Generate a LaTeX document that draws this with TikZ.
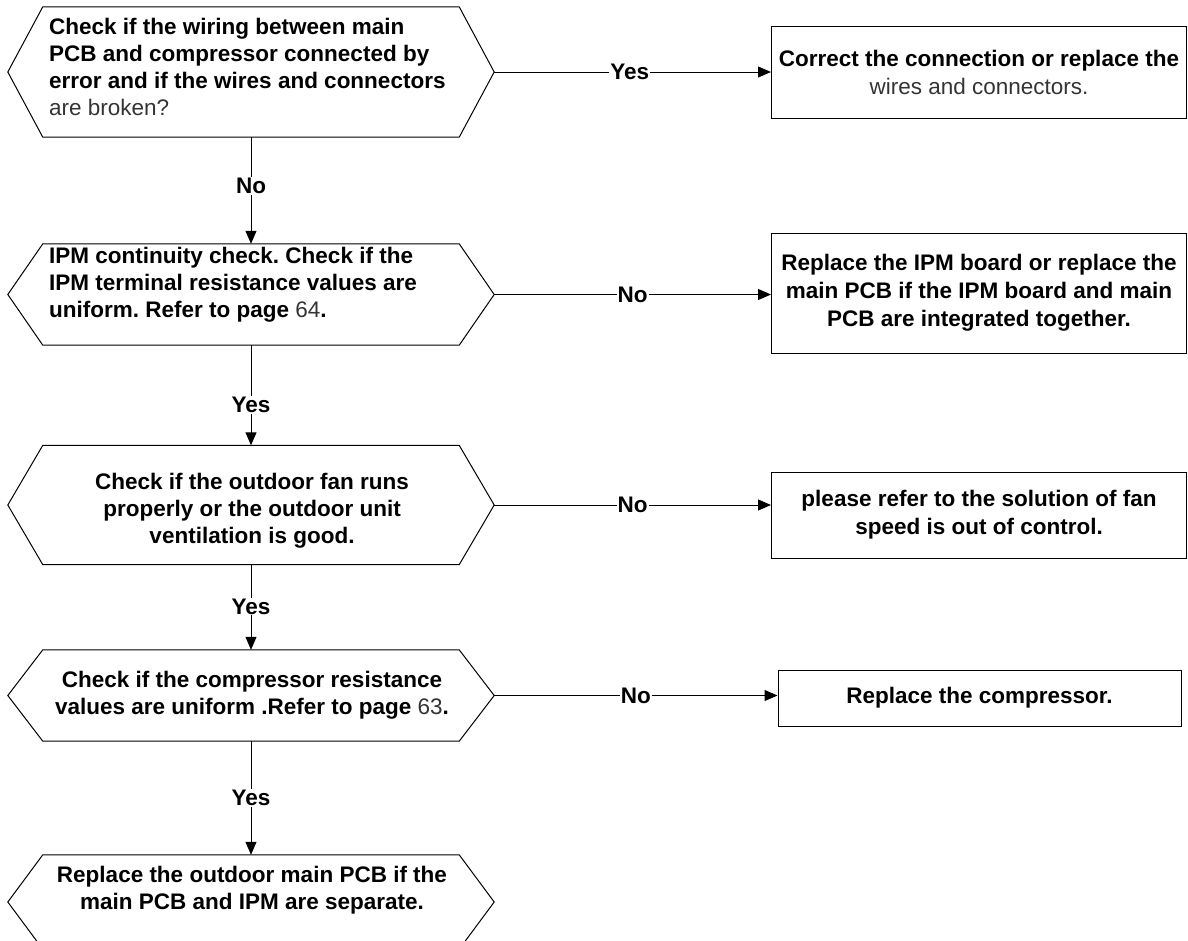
\documentclass[tikz,border=0pt]{standalone}
\usepackage{fontspec}
\setmainfont{Liberation Sans}
\usetikzlibrary{arrows.meta}
\frenchspacing
\newcommand\hexdraw[1]{\draw[line width=1pt] (#1.west) -- ([xshift=35pt]#1.north west) -- ([xshift=-35pt]#1.north east) -- (#1.east) -- ([xshift=-35pt]#1.south east) -- ([xshift=35pt]#1.south west) -- cycle;}
\newcommand\reg[1]{{\mdseries\color{black!80}#1}}
\begin{document}
\begin{tikzpicture}[x=1pt,y=-1pt,
  hexbox/.style={draw=none, minimum width=486pt, inner sep=0pt},
  txt/.style={font=\fontsize{22.5}{27}\selectfont\bfseries, inner sep=0pt},
  rbox/.style={draw, line width=1pt, inner sep=0pt, align=center, font=\fontsize{22.5}{28}\selectfont\bfseries},
  conn/.style={line width=1pt, -{Triangle[length=13pt,width=11pt]}},
  lbl/.style={fill=white, inner sep=1pt, font=\fontsize{22.5}{27}\selectfont\bfseries}
]
\useasboundingbox (0,0) rectangle (1188,940);
\clip (0,0) rectangle (1188,940);

% hexagons (decisions)
\node[hexbox, minimum height=130pt] (h1) at (251,72) {};
\node[hexbox, minimum height=101pt] (h2) at (251,294.5) {};
\node[hexbox, minimum height=119pt] (h3) at (251,505) {};
\node[hexbox, minimum height=91pt] (h4) at (251,695.5) {};
\node[hexbox, minimum height=94pt] (h5) at (251,902) {};
\hexdraw{h1}
\hexdraw{h2}
\hexdraw{h3}
\hexdraw{h4}
\hexdraw{h5}

\node[txt, anchor=west, align=left] (t1) at (49,67)
  {Check if the wiring between main\\PCB and compressor connected by\\error and if the wires and connectors\\\reg{are broken?}};
\node[txt, anchor=west, align=left] (t2) at (49,285)
  {IPM continuity check. Check if the\\IPM terminal resistance values are\\uniform. Refer to page \reg{64}.};
\node[txt, align=center] (t3) at (252,511)
  {Check if the outdoor fan runs\\properly or the outdoor unit\\ventilation is good.};
\node[txt, align=center] (t4) at (252,695)
  {Check if the compressor resistance\\values are uniform .Refer to page \reg{63}.};
\node[txt, align=center] (t5) at (252,890)
  {Replace the outdoor main PCB if the\\main PCB and IPM are separate.};

% action boxes
\node[rbox, minimum width=415pt, minimum height=92pt] (b1) at (979,72)
  {Correct the connection or replace the\\\reg{wires and connectors.}};
\node[rbox, minimum width=415pt, minimum height=120pt] (b2) at (979,293)
  {Replace the IPM board or replace the\\main PCB if the IPM board and main\\PCB are integrated together.};
\node[rbox, minimum width=415pt, minimum height=86pt] (b3) at (979,515)
  {please refer to the solution of fan\\speed is out of control.};
\node[rbox, minimum width=403pt, minimum height=56pt] (b4) at (979.5,698)
  {Replace the compressor.};

% horizontal connectors
\draw[conn] (h1.east) -- (h1.east -| b1.west) node[lbl, pos=0.49] {Yes};
\draw[conn] (h2.east) -- (h2.east -| b2.west) node[lbl, pos=0.5] {No};
\draw[conn] (h3.east) -- (h3.east -| b3.west) node[lbl, pos=0.5] {No};
\draw[conn] (h4.east) -- (h4.east -| b4.west) node[lbl, pos=0.5] {No};

% vertical connectors
\draw[conn] (h1.south) -- (h2.north) node[lbl, pos=0.46] {No};
\draw[conn] (h2.south) -- (h3.north) node[lbl, pos=0.6] {Yes};
\draw[conn] (h3.south) -- (h4.north) node[lbl, pos=0.49] {Yes};
\draw[conn] (h4.south) -- (h5.north) node[lbl, pos=0.5] {Yes};
\end{tikzpicture}
\end{document}
